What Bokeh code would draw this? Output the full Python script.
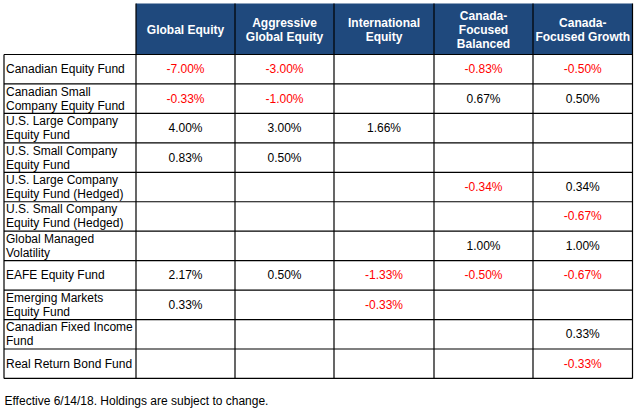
from bokeh.plotting import figure
from bokeh.models import Range1d, ColumnDataSource
from bokeh.core.properties import value
from bokeh.embed import file_html
from bokeh.resources import INLINE

# ---- data ----
fund_labels = [
    "Canadian Equity Fund",
    "Canadian Small\nCompany Equity Fund",
    "U.S. Large Company\nEquity Fund",
    "U.S. Small Company\nEquity Fund",
    "U.S. Large Company\nEquity Fund (Hedged)",
    "U.S. Small Company\nEquity Fund (Hedged)",
    "Global Managed\nVolatility",
    "EAFE Equity Fund",
    "Emerging Markets\nEquity Fund",
    "Canadian Fixed Income\nFund",
    "Real Return Bond Fund",
]
portfolio_labels = [
    "Global Equity",
    "Aggressive\nGlobal Equity",
    "International\nEquity",
    "Canada-\nFocused\nBalanced",
    "Canada-\nFocused Growth",
]
global_equity = [-7.00, -0.33, 4.00, 0.83, None, None, None, 2.17, 0.33, None, None]
aggressive_global_equity = [-3.00, -1.00, 3.00, 0.50, None, None, None, 0.50, None, None, None]
international_equity = [None, None, 1.66, None, None, None, None, -1.33, -0.33, None, None]
canada_focused_balanced = [-0.83, 0.67, None, None, -0.34, None, 1.00, -0.50, None, None, None]
canada_focused_growth = [-0.50, 0.50, None, None, 0.34, -0.67, 1.00, -0.67, None, 0.33, -0.33]
footnote = "Effective 6/14/18. Holdings are subject to change."

series = [global_equity, aggressive_global_equity, international_equity,
          canada_focused_balanced, canada_focused_growth]

# ---- layout (figure pixel coordinates) ----
W, H = 635, 409
FONT = value("Liberation Sans")
LINE_H = 14.0
left_edge = 3.5
header_top, header_bottom = 3.0, 54.0
row_h = 29.45
col_edges = [135.5, 234.5, 333.5, 433.5, 532.5, 632.0]
right_edge = col_edges[-1]
ncols = len(portfolio_labels)
row_edges = [header_bottom + i * row_h for i in range(len(fund_labels) + 1)]
table_bottom = row_edges[-1]


def split_lines(xs, ys, texts, offset=0.0):
    ox, oy, ot = [], [], []
    for x, y, t in zip(xs, ys, texts):
        parts = t.split("\n")
        n = len(parts)
        for k, part in enumerate(parts):
            ox.append(x)
            oy.append(y + offset + (k - (n - 1) / 2) * LINE_H)
            ot.append(part)
    return ox, oy, ot


p = figure(width=W, height=H, x_range=Range1d(0, W), y_range=Range1d(H, 0),
           output_backend="svg", toolbar_location=None, min_border=0,
           x_axis_type=None, y_axis_type=None)
p.grid.visible = False
p.outline_line_color = None
p.background_fill_color = "white"
p.border_fill_color = "white"

# header background
p.quad(left=[col_edges[0]], right=[col_edges[-1]], top=[header_top], bottom=[header_bottom],
       fill_color="#1F497D", line_color=None)

# grid lines
x0, y0, x1, y1 = [], [], [], []
for y in row_edges:
    x0.append(left_edge); x1.append(right_edge); y0.append(y); y1.append(y)
x0.append(left_edge); x1.append(left_edge); y0.append(header_bottom); y1.append(table_bottom)
for x in col_edges:
    x0.append(x); x1.append(x); y0.append(header_top); y1.append(table_bottom)
p.segment(x0=x0, y0=y0, x1=x1, y1=y1, line_color="black", line_width=1.2)

# header text
hx = [(col_edges[i] + col_edges[i + 1]) / 2 for i in range(ncols)]
hy = [(header_top + header_bottom) / 2] * ncols
tx, ty, tt = split_lines(hx, hy, portfolio_labels, offset=0.5)
p.text(x=tx, y=ty, text=tt, text_font=FONT, text_font_size="12px",
       text_font_style="bold", text_color="white", text_align="center",
       text_baseline="middle")

# row labels
ry = [(row_edges[i] + row_edges[i + 1]) / 2 for i in range(len(fund_labels))]
lx, ly, lt = split_lines([5.5] * len(fund_labels), ry, fund_labels, offset=0.0)
p.text(x=lx, y=ly, text=lt, text_font=FONT,
       text_font_size="12px", text_color="black", text_align="left",
       text_baseline="middle")

# values
vx, vy, vt, vc = [], [], [], []
for j, s in enumerate(series):
    for i, v in enumerate(s):
        if v is None:
            continue
        vx.append(hx[j]); vy.append(ry[i])
        vt.append(f"{v:.2f}%")
        vc.append("#FF0000" if v < 0 else "#000000")
src = ColumnDataSource(dict(x=vx, y=vy, text=vt, color=vc))
p.text(x="x", y="y", text="text", text_color="color", source=src, text_font=FONT,
       text_font_size="12px", text_align="center", text_baseline="middle")

# footnote
p.text(x=[4], y=[400], text=[footnote], text_font=FONT, text_font_size="12px",
       text_color="black", text_align="left", text_baseline="middle")

open("out.html", "w").write(file_html(p, INLINE))
